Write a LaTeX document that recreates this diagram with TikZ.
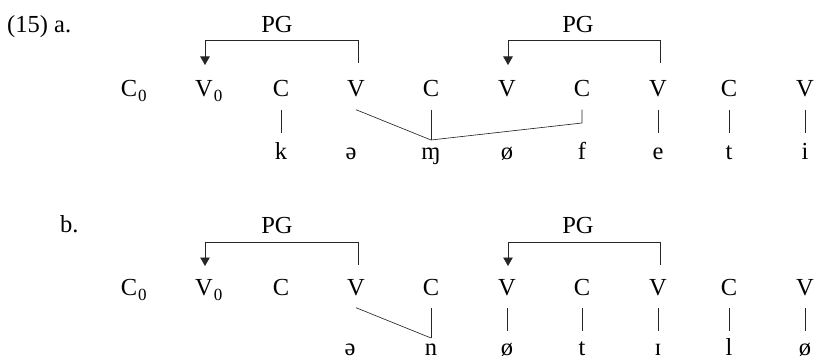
\documentclass[tikz,border=0pt]{standalone}
\usepackage{fontspec}
\setmainfont{Liberation Serif}
\usetikzlibrary{arrows.meta}
\newcommand{\zsub}{\rlap{\kern1pt\raisebox{-5pt}{\fontsize{17}{17}\selectfont 0}}}
\begin{document}
\begin{tikzpicture}[x=1pt,y=-1pt,
  txt/.style={inner sep=0pt,font=\fontsize{24.5}{24.5}\selectfont},
  cv/.style={txt,anchor=base,text depth=12.5pt},
  seg/.style={txt,anchor=base,text height=26.5pt},
  segb/.style={txt,anchor=base,text height=24pt},
  lab/.style={txt,anchor=base west},
  pglab/.style={txt,anchor=base},
  assoc/.style={line width=0.65pt,draw=black!85},
  pgline/.style={line width=0.65pt,draw=black!85,-{Triangle[width=9.5pt,length=8.5pt]}}]
\useasboundingbox (0,0) rectangle (815,361);

% ---------------- (15) a. ----------------
\node[lab] (numa) at (7,33) {(15) a.};
\node[pglab] (pga1) at (277,33) {PG};
\node[pglab] (pga2) at (578,33) {PG};

\node[cv] (C1a) at (129,97) {C\zsub};
\node[cv] (V2a) at (204,97) {V\zsub};
\node[cv] (C3a) at (281,97) {C};
\node[cv] (V4a) at (356,97) {V};
\node[cv] (C5a) at (431,97) {C};
\node[cv] (V6a) at (507,97) {V};
\node[cv] (C7a) at (582,97) {C};
\node[cv] (V8a) at (658,97) {V};
\node[cv] (C9a) at (729,97) {C};
\node[cv] (V10a) at (805,97) {V};

\node[seg] (ka) at (281,160) {k};
\node[seg] (schwaa) at (351,160) {ə};
\node[seg] (mja) at (431,160) {ɱ};
\node[seg] (oa) at (507,160) {ø};
\node[seg] (fa) at (582,160) {f};
\node[seg] (ea) at (658,160) {e};
\node[seg] (ta) at (729,160) {t};
\node[seg] (ia) at (805,160) {i};

\coordinate (jA) at (431,140);
\coordinate (kA) at (582,123);
\draw[assoc] (C3a.south) -- (ka.north);
\draw[assoc] (V4a.south) -- (jA);
\draw[assoc] (C5a.south) -- (jA);
\draw[assoc] (C7a.south) -- (kA) -- (jA);
\draw[assoc] (V8a.south) -- (ea.north);
\draw[assoc] (C9a.south) -- (ta.north);
\draw[assoc] (V10a.south) -- (ia.north);

\coordinate (pa1r) at (358,63);
\coordinate (pa1rt) at (358,40.5);
\coordinate (pa1lt) at (205,40.5);
\coordinate (pa1l) at (205,65);
\draw[pgline] (pa1r) -- (pa1rt) -- (pa1lt) -- (pa1l);
\coordinate (pa2r) at (660,63);
\coordinate (pa2rt) at (660,40.5);
\coordinate (pa2lt) at (508,40.5);
\coordinate (pa2l) at (508,65);
\draw[pgline] (pa2r) -- (pa2rt) -- (pa2lt) -- (pa2l);

% ---------------- b. ----------------
\node[lab] (numb) at (60,232) {b.};
\node[pglab] (pgb1) at (277,233) {PG};
\node[pglab] (pgb2) at (578,233) {PG};

\node[cv] (C1b) at (129,295) {C\zsub};
\node[cv] (V2b) at (204,295) {V\zsub};
\node[cv] (C3b) at (281,295) {C};
\node[cv] (V4b) at (356,295) {V};
\node[cv] (C5b) at (431,295) {C};
\node[cv] (V6b) at (507,295) {V};
\node[cv] (C7b) at (582,295) {C};
\node[cv] (V8b) at (658,295) {V};
\node[cv] (C9b) at (729,295) {C};
\node[cv] (V10b) at (805,295) {V};

\node[segb] (schwab) at (350,355) {ə};
\node[segb] (nb) at (431,355) {n};
\node[segb] (ob) at (507,355) {ø};
\node[segb] (tb) at (582,355) {t};
\node[segb] (ib) at (658,355) {ɪ};
\node[segb] (lb) at (729,355) {l};
\node[segb] (o2b) at (805,355) {ø};

\coordinate (jB) at (431,338);
\draw[assoc] (V4b.south) -- (jB);
\draw[assoc] (C5b.south) -- (jB);
\draw[assoc] (V6b.south) -- (ob.north);
\draw[assoc] (C7b.south) -- (tb.north);
\draw[assoc] (V8b.south) -- (ib.north);
\draw[assoc] (C9b.south) -- (lb.north);
\draw[assoc] (V10b.south) -- (o2b.north);

\coordinate (pb1r) at (358,265);
\coordinate (pb1rt) at (358,242);
\coordinate (pb1lt) at (205,242);
\coordinate (pb1l) at (205,266);
\draw[pgline] (pb1r) -- (pb1rt) -- (pb1lt) -- (pb1l);
\coordinate (pb2r) at (660,265);
\coordinate (pb2rt) at (660,242);
\coordinate (pb2lt) at (508,242);
\coordinate (pb2l) at (508,266);
\draw[pgline] (pb2r) -- (pb2rt) -- (pb2lt) -- (pb2l);
\end{tikzpicture}
\end{document}
